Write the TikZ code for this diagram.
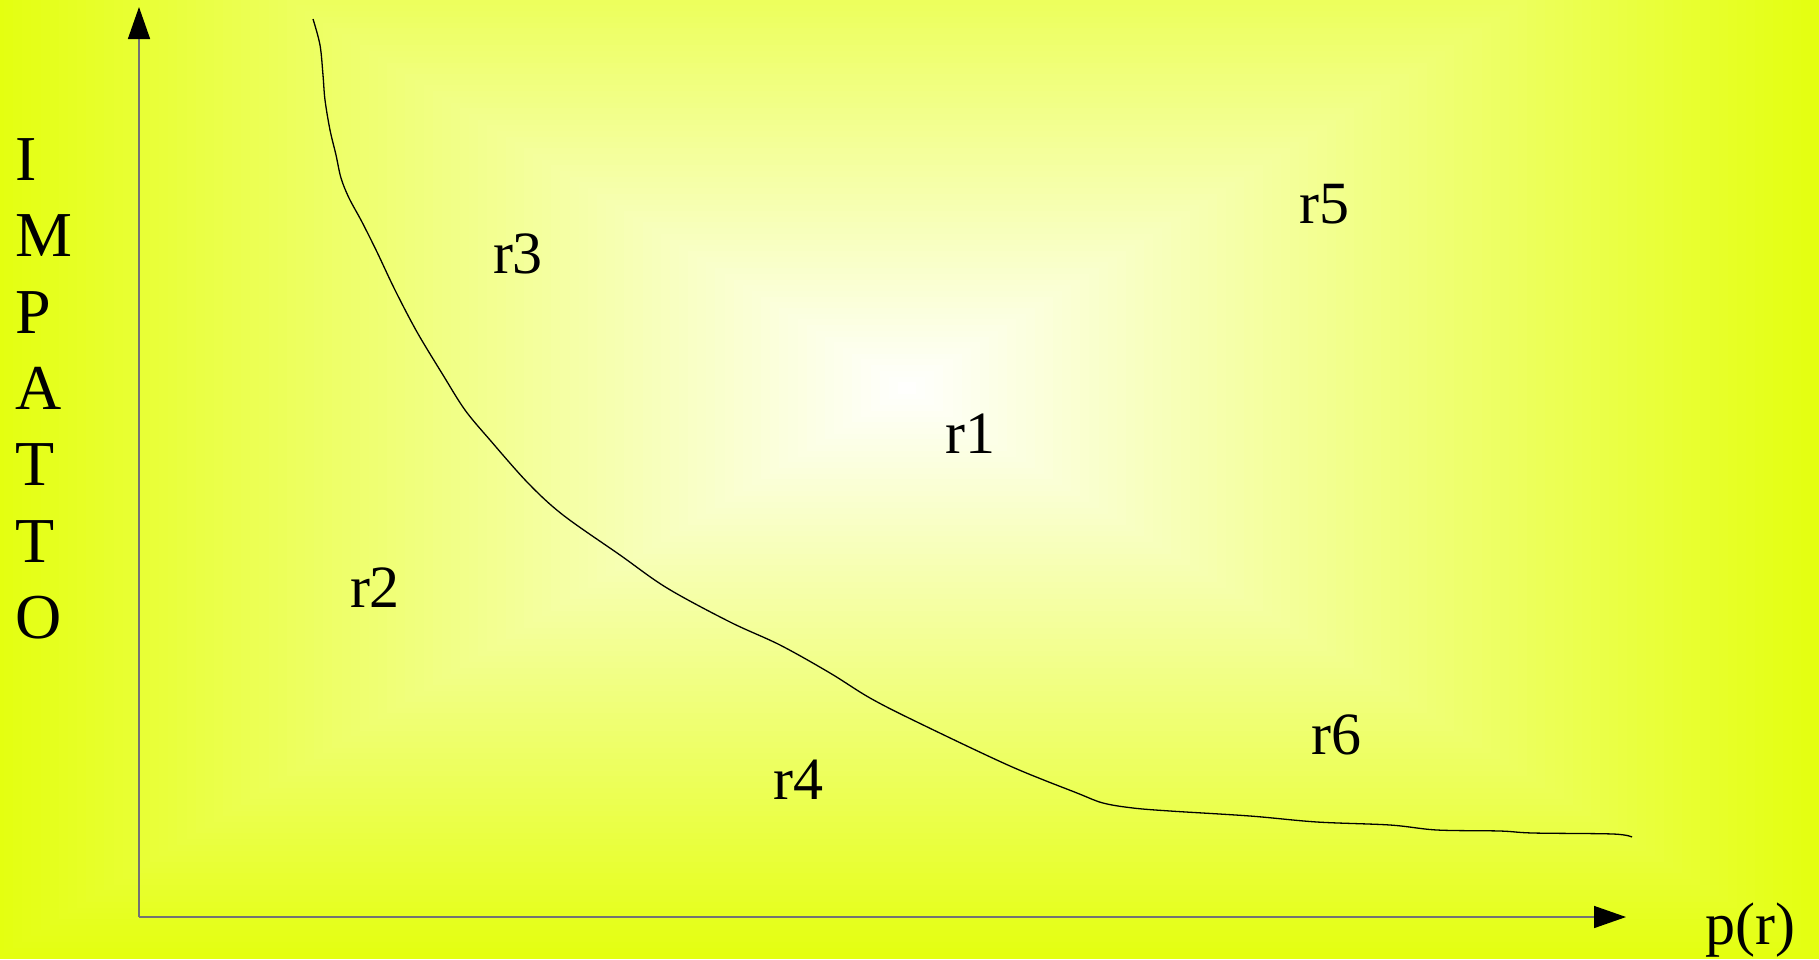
\documentclass[tikz,border=0pt]{standalone}
\usepackage{fontspec}
\setmainfont{Liberation Serif}
\usetikzlibrary{arrows.meta}
\definecolor{edgey}{RGB}{228,255,16}
\tikzset{
  lbl/.style={inner sep=0pt, anchor=base, font=\fontsize{60}{72}\selectfont},
  vlet/.style={inner sep=0pt, anchor=base west, font=\fontsize{64}{76}\selectfont},
  axis/.style={draw=black!55, line width=1.5pt, -{Triangle[length=32pt,width=22pt,color=black]}},
  curve/.style={draw=black, line width=1.3pt}
}
\begin{document}
\begin{tikzpicture}[x=1pt,y=-1pt]
\useasboundingbox (0,0) rectangle (1819,959);
\clip (0,0) rectangle (1819,959);
% rectangular gradient
\foreach \i in {100,99,...,1} {
  \pgfmathsetmacro\s{\i/100}
  \fill[edgey!\i!white] ({907-\s*912},{388-\s*571}) rectangle ({907+\s*912},{388+\s*571});
}
% axes
\coordinate (O) at (139,917);
\coordinate (Ytip) at (139,7);
\coordinate (Xtip) at (1626,917);
\draw[axis] (O) -- (Ytip);
\draw[axis] (O) -- (Xtip);
% curve
\draw[curve] plot[smooth, tension=0.55] coordinates {
(313,19) (320,45) (323,75) (325,100) (330,130) (336,155) (341,178) (349,198)
(362,222) (377,252) (395,290) (417,332) (443,375) (465,410) (490,440)
(528,483) (563,515) (620,555) (667,588) (730,622) (780,645) (830,673)
(870,698) (917,722) (1010,766) (1077,793) (1103,803) (1133,808) (1170,811)
(1250,816) (1317,822) (1390,825) (1437,830) (1500,831) (1533,833) (1613,834) (1632,837)};
% vertical label
\node[vlet] (i1) at (15,180) {I};
\node[vlet] (i2) at (15,256) {M};
\node[vlet] (i3) at (15,333) {P};
\node[vlet] (i4) at (15,409) {A};
\node[vlet] (i5) at (15,485) {T};
\node[vlet] (i6) at (15,562) {T};
\node[vlet] (i7) at (15,638) {O};
% region labels
\node[lbl] (r3) at (518,273) {r3};
\node[lbl] (r5) at (1324,223) {r5};
\node[lbl] (r1) at (970,453) {r1};
\node[lbl] (r2) at (375,607) {r2};
\node[lbl] (r4) at (798,799) {r4};
\node[lbl] (r6) at (1336,754) {r6};
\node[lbl] (pr) at (1750,944) {p(r)};
\end{tikzpicture}
\end{document}
